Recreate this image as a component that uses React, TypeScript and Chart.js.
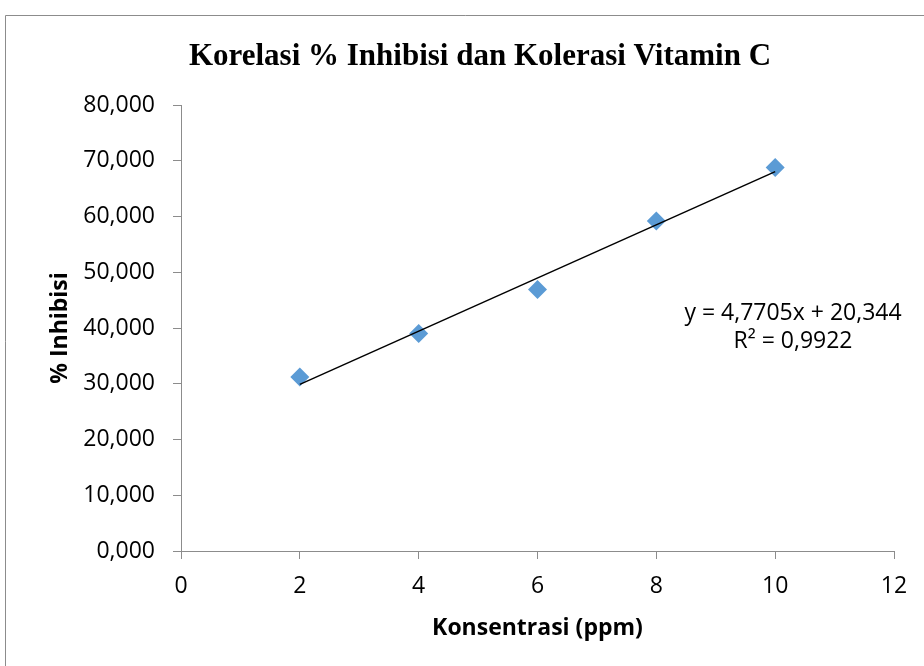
import React, { useEffect, useRef } from "react";
import { Chart, registerables } from "chart.js";

Chart.register(...registerables);

const concentration = [2, 4, 6, 8, 10];
const inhibition = [31.2, 39.0, 46.9, 59.2, 68.8];
const trendSlope = 4.7705;
const trendIntercept = 20.344;
const trendRange = [2, 10];
const equationLines = ["y = 4,7705x + 20,344", "R² = 0,9922"];
const titleText = "Korelasi % Inhibisi dan Kolerasi Vitamin C";
const xTitle = "Konsentrasi (ppm)";
const yTitle = "% Inhibisi";

const TICK_FONT = "'Open Sans', 'Liberation Sans', sans-serif";

export default function App() {
  const ref = useRef<HTMLCanvasElement | null>(null);

  useEffect(() => {
    const canvas = ref.current;
    if (!canvas) return;

    const decor = {
      id: "decor",
      beforeDraw(chart: any) {
        const ctx = chart.ctx;
        ctx.save();
        ctx.fillStyle = "#ffffff";
        ctx.fillRect(0, 0, chart.width, chart.height);
        ctx.strokeStyle = "#8c8c8c";
        ctx.lineWidth = 1;
        ctx.beginPath();
        ctx.moveTo(5.5, chart.height + 5);
        ctx.lineTo(5.5, 15.5);
        ctx.lineTo(chart.width + 5, 15.5);
        ctx.stroke();
        ctx.restore();
      },
      afterDraw(chart: any) {
        const ctx = chart.ctx;
        ctx.save();
        ctx.fillStyle = "#000000";
        ctx.textAlign = "center";
        ctx.textBaseline = "alphabetic";
        ctx.font = "bold 31px 'Liberation Serif', 'Times New Roman', serif";
        ctx.fillText(titleText, 480, 65);
        ctx.textBaseline = "middle";
        ctx.font = "23px " + TICK_FONT;
        ctx.fillText(equationLines[0], 793, 313);
        ctx.fillText(equationLines[1], 793, 341);
        ctx.restore();
      },
    };

    const trendData = trendRange.map((x) => ({ x, y: trendSlope * x + trendIntercept }));
    const pointData = concentration.map((x, i) => ({ x, y: inhibition[i] }));

    const chart = new Chart(canvas, {
      type: "scatter",
      data: {
        datasets: [
          {
            type: "line",
            data: trendData,
            borderColor: "#000000",
            borderWidth: 1.5,
            pointRadius: 0,
            showLine: true,
            fill: false,
          } as any,
          {
            data: pointData,
            pointStyle: "rectRot",
            pointRadius: 9.5,
            backgroundColor: "#5B9BD5",
            borderColor: "#5B9BD5",
            borderWidth: 0,
          },
        ],
      },
      options: {
        responsive: false,
        animation: false,
        layout: { padding: { top: 105, right: 30, left: 0, bottom: 0 } },
        plugins: {
          legend: { display: false },
          tooltip: { enabled: false },
          title: { display: false },
        },
        scales: {
          x: {
            type: "linear",
            min: 0,
            max: 12,
            afterFit: (s: any) => {
              s.height = 115;
            },
            ticks: {
              stepSize: 2,
              padding: 14,
              color: "#000000",
              font: { family: TICK_FONT, size: 23 },
            },
            grid: {
              drawOnChartArea: false,
              tickLength: 8,
              color: "#8c8c8c",
            },
            border: { color: "#8c8c8c", width: 1 },
            title: {
              display: true,
              text: xTitle,
              color: "#000000",
              font: { family: TICK_FONT, size: 23, weight: "bold" },
              padding: { top: 0, bottom: 24 },
            },
          },
          y: {
            type: "linear",
            min: 0,
            max: 80,
            afterFit: (s: any) => {
              s.width = 181;
            },
            ticks: {
              stepSize: 10,
              padding: 18,
              color: "#000000",
              font: { family: TICK_FONT, size: 23 },
              callback: (v: any) => Number(v).toFixed(3).replace(".", ","),
            },
            grid: {
              drawOnChartArea: false,
              tickLength: 8,
              color: "#8c8c8c",
            },
            border: { color: "#8c8c8c", width: 1 },
            title: {
              display: true,
              text: yTitle,
              color: "#000000",
              font: { family: TICK_FONT, size: 23, weight: "bold" },
              padding: { top: 47, bottom: 0 },
            },
          },
        },
      },
      plugins: [decor],
    });

    return () => chart.destroy();
  }, []);

  return (
    <div style={{ position: "fixed", left: 0, top: 0, width: 924, height: 666, background: "#fff" }}>
      <canvas ref={ref} width={924} height={666} style={{ display: "block" }} />
    </div>
  );
}
